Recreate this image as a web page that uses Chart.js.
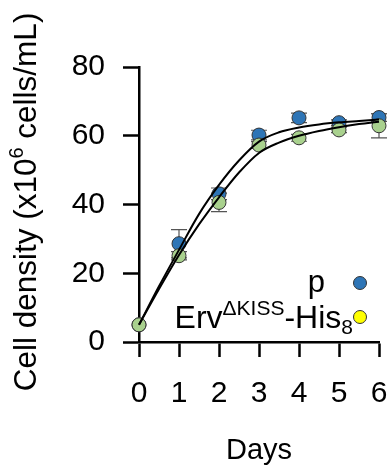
<!DOCTYPE html>
<html>
<head>
<meta charset="utf-8">
<script src="https://cdn.jsdelivr.net/npm/chart.js@4/dist/chart.umd.min.js"></script>
<style>
  body { margin: 0; background: #fff; }
  #wrap { width: 389px; height: 466px; }
</style>
</head>
<body>
<div id="wrap"><canvas id="chart"></canvas></div>
<script>
// measured points
const days = [0, 1, 2, 3, 4, 5, 6];
const pMean = [5, 28.6, 43.1, 60.2, 65.2, 63.8, 65.3];
const pErr = [0, 4.1, 1.7, 1.4, 1.4, 0.8, 1.1];
const ervMean = [5, 25.1, 40.6, 57.3, 59.4, 61.7, 62.9];
const ervErr = [0, 1.2, 2.7, 1.0, 1.0, 0.8, 3.5];

// fitted curves
const fitDays = [0, 0.5, 1, 1.5, 2, 2.5, 3, 3.5, 4, 4.5, 5, 5.5, 6];
const fitP = [5, 16.2, 26.8, 37.2, 45.7, 52.8, 58.3, 61.0, 62.4, 63.3, 63.9, 64.3, 64.7];
const fitErv = [5, 15.4, 25.3, 34.2, 42.1, 49.3, 55.0, 58.0, 60.0, 61.4, 62.5, 63.4, 64.1];

const yTicks = [0, 20, 40, 60, 80];

const FONT = '"Liberation Sans", Arial, sans-serif';
const BLUE = '#2e75b6';
const GREEN = '#a9d18e';
const YELLOW = '#ffff00';

Chart.defaults.font.family = FONT;
Chart.defaults.color = '#000';

const toXY = (xs, ys) => xs.map((x, i) => ({ x, y: ys[i] }));

// error bars behind the dots
const errorBars = {
  id: 'errorBars',
  beforeDatasetsDraw(chart) {
    const { ctx, scales: { x, y } } = chart;
    ctx.save();
    ctx.strokeStyle = '#555';
    ctx.lineWidth = 1.2;
    [[pMean, pErr], [ervMean, ervErr]].forEach(([m, e]) => {
      days.forEach((d, i) => {
        if (!e[i]) return;
        const px = x.getPixelForValue(d);
        const top = y.getPixelForValue(m[i] + e[i]);
        const bot = y.getPixelForValue(m[i] - e[i]);
        ctx.beginPath();
        ctx.moveTo(px, top); ctx.lineTo(px, bot);
        ctx.moveTo(px - 8, top); ctx.lineTo(px + 8, top);
        ctx.moveTo(px - 8, bot); ctx.lineTo(px + 8, bot);
        ctx.stroke();
      });
    });
    ctx.restore();
  }
};

function dot(ctx, x, y, color) {
  ctx.save();
  ctx.beginPath();
  ctx.arc(x, y, 6.5, 0, Math.PI * 2);
  ctx.fillStyle = color;
  ctx.fill();
  ctx.lineWidth = 1;
  ctx.strokeStyle = '#333';
  ctx.stroke();
  ctx.restore();
}

// draw text pieces one after another, returns the width
function runs(ctx, parts, x, y, measureOnly) {
  let cx = x;
  parts.forEach(([t, size, dy]) => {
    ctx.font = size + 'px ' + FONT;
    if (!measureOnly) ctx.fillText(t, cx, y + dy);
    cx += ctx.measureText(t).width;
  });
  return cx - x;
}

// titles and legend with super/subscripts
const labels = {
  id: 'labels',
  afterDraw(chart) {
    const { ctx, chartArea: a } = chart;
    ctx.save();
    ctx.fillStyle = '#000';
    ctx.textBaseline = 'alphabetic';

    // x title
    ctx.font = '29px ' + FONT;
    ctx.textAlign = 'center';
    ctx.fillText('Days', (a.left + a.right) / 2, 459);

    // y title, rotated
    ctx.textAlign = 'left';
    const yTitle = [['Cell density (x10', 31.5, 0], ['6', 20, -13], [' cells/mL)', 31.5, 0]];
    const tw = runs(ctx, yTitle, 0, 0, true);
    ctx.translate(36, 202);
    ctx.rotate(-Math.PI / 2);
    runs(ctx, yTitle, -tw / 2, 0);
    ctx.setTransform(1, 0, 0, 1, 0, 0);

    // legend
    ctx.font = '31px ' + FONT;
    ctx.textAlign = 'right';
    ctx.fillText('p', a.right - 54, 292);
    dot(ctx, a.right - 19, 283, BLUE);

    ctx.textAlign = 'left';
    const leg = [['Erv', 32, 0], ['\u0394KISS', 21, -13], ['-His', 32, 0], ['8', 21, 6]];
    const lw = runs(ctx, leg, 0, 0, true);
    runs(ctx, leg, a.right - 26 - lw, 328);
    dot(ctx, a.right - 19, 317, YELLOW);
    ctx.restore();
  }
};

const axisCommon = {
  grid: { drawOnChartArea: false, tickColor: '#000', tickWidth: 2.5 },
  border: { color: '#000', width: 2.5 },
};

new Chart(document.getElementById('chart'), {
  type: 'scatter',
  data: {
    datasets: [
      {
        type: 'line', data: toXY(fitDays, fitP), borderColor: '#000', borderWidth: 2,
        pointRadius: 0, cubicInterpolationMode: 'monotone', order: 0,
      },
      {
        type: 'line', data: toXY(fitDays, fitErv), borderColor: '#000', borderWidth: 2,
        pointRadius: 0, cubicInterpolationMode: 'monotone', order: 0,
      },
      {
        data: toXY(days, ervMean), backgroundColor: GREEN, borderColor: '#333',
        borderWidth: 1, pointRadius: 7, order: 1,
      },
      {
        data: toXY(days, pMean), backgroundColor: BLUE, borderColor: '#333',
        borderWidth: 1, pointRadius: 7, order: 2,
      },
    ],
  },
  options: {
    responsive: true,
    maintainAspectRatio: false,
    animation: false,
    clip: false,
    layout: { padding: { top: 67, right: 10, left: 0, bottom: 0 } },
    plugins: { legend: { display: false }, tooltip: { enabled: false } },
    scales: {
      x: {
        type: 'linear', min: 0, max: 6,
        ticks: { stepSize: 1, font: { size: 30 }, padding: 19 },
        ...axisCommon,
        grid: { ...axisCommon.grid, tickLength: 15 },
        afterFit(s) { s.height = 124; s.paddingLeft = 0; s.paddingRight = 0; },
      },
      y: {
        min: 0, max: 80,
        afterBuildTicks(s) { s.ticks = yTicks.map(v => ({ value: v })); },
        ticks: { font: { size: 30 }, padding: 18 },
        ...axisCommon,
        grid: { ...axisCommon.grid, tickLength: 16 },
        afterFit(s) { s.width = 139; s.paddingTop = 0; s.paddingBottom = 0; },
      },
    },
  },
  plugins: [errorBars, labels],
});
</script>
</body>
</html>
